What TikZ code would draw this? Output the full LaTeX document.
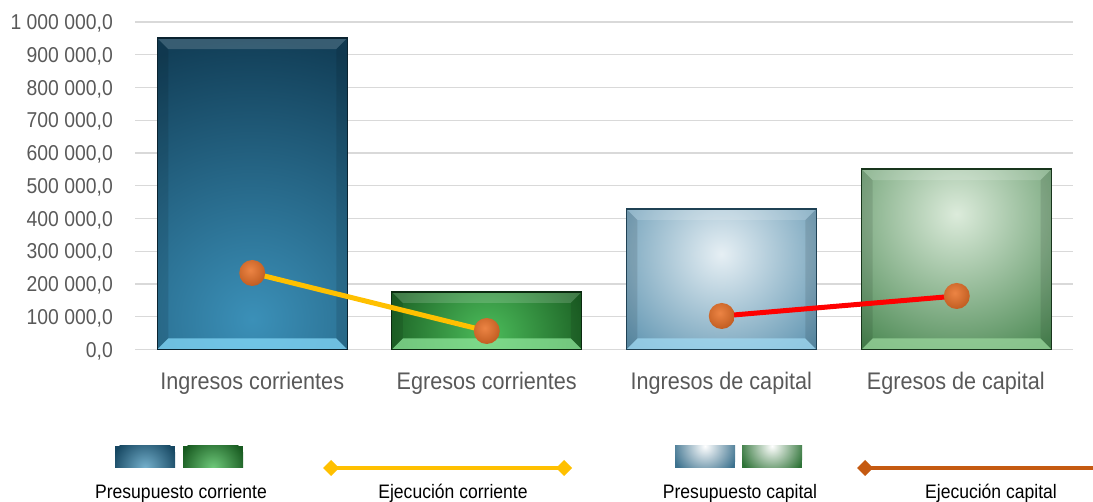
\documentclass[tikz,border=0pt]{standalone}
\usepackage{fontspec}
\setmainfont{Liberation Sans}[FakeStretch=0.9]
\usetikzlibrary{calc}

\definecolor{achsgrau}{HTML}{595959}
\definecolor{gittergrau}{HTML}{D9D9D9}
\definecolor{ejcorr}{HTML}{FFC000}
\definecolor{ejcap}{HTML}{FF0000}
\definecolor{ejcapleg}{HTML}{C55A11}
\definecolor{kugelhell}{HTML}{EC8444}
\definecolor{kugeldunkel}{HTML}{B9561B}
% Balkenfarben
\definecolor{blauin}{HTML}{3B90B8}  \definecolor{blauaus}{HTML}{123F58}
\definecolor{blaufase}{HTML}{84D8F8}\definecolor{blaurand}{HTML}{0A2330}
\definecolor{gruenin}{HTML}{4CBD5B} \definecolor{gruenaus}{HTML}{185A20}
\definecolor{gruenfase}{HTML}{8EE59A}\definecolor{gruenrand}{HTML}{0B2A10}
\definecolor{hblauin}{HTML}{E6EFF4} \definecolor{hblauaus}{HTML}{4A86A6}
\definecolor{hblaufase}{HTML}{A0D9F2}\definecolor{hblaurand}{HTML}{1F4154}
\definecolor{hgruenin}{HTML}{DCEBDB}\definecolor{hgruenaus}{HTML}{34793D}
\definecolor{hgruenfase}{HTML}{9AD69D}\definecolor{hgruenrand}{HTML}{18351C}

% #1 unten links, #2 oben rechts, #3 Lichtpunkt, #4 Radius, #5 innen, #6 aussen, #7 Fase, #8 Rand
\newcommand{\glasbalken}[8]{%
  \begin{scope}
    \clip (#1) rectangle (#2);
    \fill[#6] (#1) rectangle (#2);
    \shade[inner color=#5, outer color=#6] (#3) circle (#4);
    \fill[white, opacity=.16] (#1 |- #2) -- (#2) -- ($(#2)+(-11,11)$) -- ($(#1 |- #2)+(11,11)$) -- cycle;
    \fill[#7, opacity=.75] (#1) -- (#2 |- #1) -- ($(#2 |- #1)+(-11,-11)$) -- ($(#1)+(11,-11)$) -- cycle;
    \fill[black, opacity=.1] (#1) -- (#1 |- #2) -- ($(#1 |- #2)+(11,11)$) -- ($(#1)+(11,-11)$) -- cycle;
    \fill[black, opacity=.1] (#2 |- #1) -- (#2) -- ($(#2)+(-11,11)$) -- ($(#2 |- #1)+(-11,-11)$) -- cycle;
  \end{scope}
  \draw[#8, line width=1.4pt] (#1) rectangle (#2);
}
% Kugel-Marker
\newcommand{\kugel}[1]{%
  \begin{scope}
    \clip (#1) circle (13);
    \shade[inner color=kugelhell, outer color=kugeldunkel] ($(#1)+(-2,-3)$) circle (19);
  \end{scope}
}
% Legendenfeld: #1 unten links, #2 oben rechts, #3 Lichtpunkt, #4 innen, #5 aussen
\newcommand{\legfeld}[5]{%
  \begin{scope}
    \clip (#1) rectangle (#2);
    \fill[#5] (#1) rectangle (#2);
    \shade[inner color=#4, outer color=#5] (#3) circle (34);
  \end{scope}
}
\newcommand{\raute}[2]{\fill[#2] ($(#1)+(-8,0)$) -- ($(#1)+(0,-8)$) -- ($(#1)+(8,0)$) -- ($(#1)+(0,8)$) -- cycle;}

\begin{document}
\begin{tikzpicture}[x=1pt, y=-1pt,
  gitter/.style={gittergrau, line width=1.3pt},
  ylab/.style={anchor=base east, inner sep=0pt, text=achsgrau, font=\fontsize{21.5}{24}\selectfont},
  katlab/.style={anchor=base, inner sep=0pt, text=achsgrau, font=\fontsize{24}{28}\selectfont},
  leglab/.style={anchor=base, inner sep=0pt, font=\fontsize{19.5}{22}\selectfont}]
  \useasboundingbox (0,0) rectangle (1093,502);

  %--- Werteachse (y in Tausend)
  \begin{scope}[shift={(0,349.5)}, y=0.3275pt]
    \foreach \v/\txt in {0/{0,0}, 100/{100 000,0}, 200/{200 000,0}, 300/{300 000,0},
        400/{400 000,0}, 500/{500 000,0}, 600/{600 000,0}, 700/{700 000,0},
        800/{800 000,0}, 900/{900 000,0}, 1000/{1 000 000,0}} {
      \draw[gitter] (135,\v) -- (1073,\v);
      \node[ylab, yshift=-7.7pt] (y\v) at (113,\v) {\txt};
    }
    %--- Presupuesto (Balkenecken)
    \coordinate (b1a) at (157.25,0);  \coordinate (b1b) at (347.25,951);
    \coordinate (b2a) at (391.75,0);  \coordinate (b2b) at (581.75,175.6);
    \coordinate (b3a) at (626.25,0);  \coordinate (b3b) at (816.25,429);
    \coordinate (b4a) at (861.5,0);   \coordinate (b4b) at (1051.5,551);
    %--- Ejecución
    \coordinate (p1) at (252.25,233.6);
    \coordinate (p2) at (486.75,56.5);
    \coordinate (p3) at (721.75,102.3);
    \coordinate (p4) at (956.75,163.4);
  \end{scope}

  %--- Balken
  \glasbalken{b1a}{b1b}{$(b1a)+(95,-30)$}{280}{blauin}{blauaus}{blaufase}{blaurand}
  \glasbalken{b2a}{b2b}{$(b2a)+(95,-14)$}{110}{gruenin}{gruenaus}{gruenfase}{gruenrand}
  \glasbalken{b3a}{b3b}{$(b3a |- b3b)+(95,45)$}{150}{hblauin}{hblauaus}{hblaufase}{hblaurand}
  \glasbalken{b4a}{b4b}{$(b4a |- b4b)+(95,45)$}{185}{hgruenin}{hgruenaus}{hgruenfase}{hgruenrand}

  %--- Linien + Marker
  \draw[ejcorr, line width=5pt] (p1) -- (p2);
  \draw[ejcap, line width=5pt] (p3) -- (p4);
  \foreach \p in {p1,p2,p3,p4} {\kugel{\p}}

  %--- Kategorien
  \node[katlab] (k1) at (252.25,390) {Ingresos corrientes};
  \node[katlab] (k2) at (486.75,390) {Egresos corrientes};
  \node[katlab] (k3) at (721.25,390) {Ingresos de capital};
  \node[katlab] (k4) at (955.75,390) {Egresos de capital};

  %--- Legende
  \coordinate (l1a) at (115,468); \coordinate (l1b) at (175,446);
  \coordinate (l2a) at (183,468); \coordinate (l2b) at (243,446);
  \coordinate (l3a) at (675,468); \coordinate (l3b) at (735,446);
  \coordinate (l4a) at (742,468); \coordinate (l4b) at (802,446);
  \legfeld{l1a}{l1b}{$(l1a)+(30,0)$}{blauin!70!white}{blauaus!90!blauin}
  \legfeld{l2a}{l2b}{$(l2a)+(30,0)$}{gruenin!80!white}{gruenaus}
  \legfeld{l3a}{l3b}{$(l3b)+(-30,0)$}{white}{hblauaus!80!blaurand}
  \legfeld{l4a}{l4b}{$(l4b)+(-30,0)$}{white}{hgruenaus!80!gruenaus}

  \coordinate (e1a) at (331,468); \coordinate (e1b) at (564,468);
  \coordinate (e2a) at (865,468); \coordinate (e2b) at (1093,468);
  \draw[ejcorr, line width=3.5pt] (e1a) -- (e1b);
  \raute{e1a}{ejcorr} \raute{e1b}{ejcorr}
  \draw[ejcapleg, line width=3.5pt] (e2a) -- (e2b);
  \raute{e2a}{ejcapleg}

  \node[leglab] (t1) at (181,499) {Presupuesto corriente};
  \node[leglab] (t2) at (453,499) {Ejecución corriente};
  \node[leglab] (t3) at (740,499) {Presupuesto capital};
  \node[leglab] (t4) at (991,499) {Ejecución capital};
\end{tikzpicture}
\end{document}
